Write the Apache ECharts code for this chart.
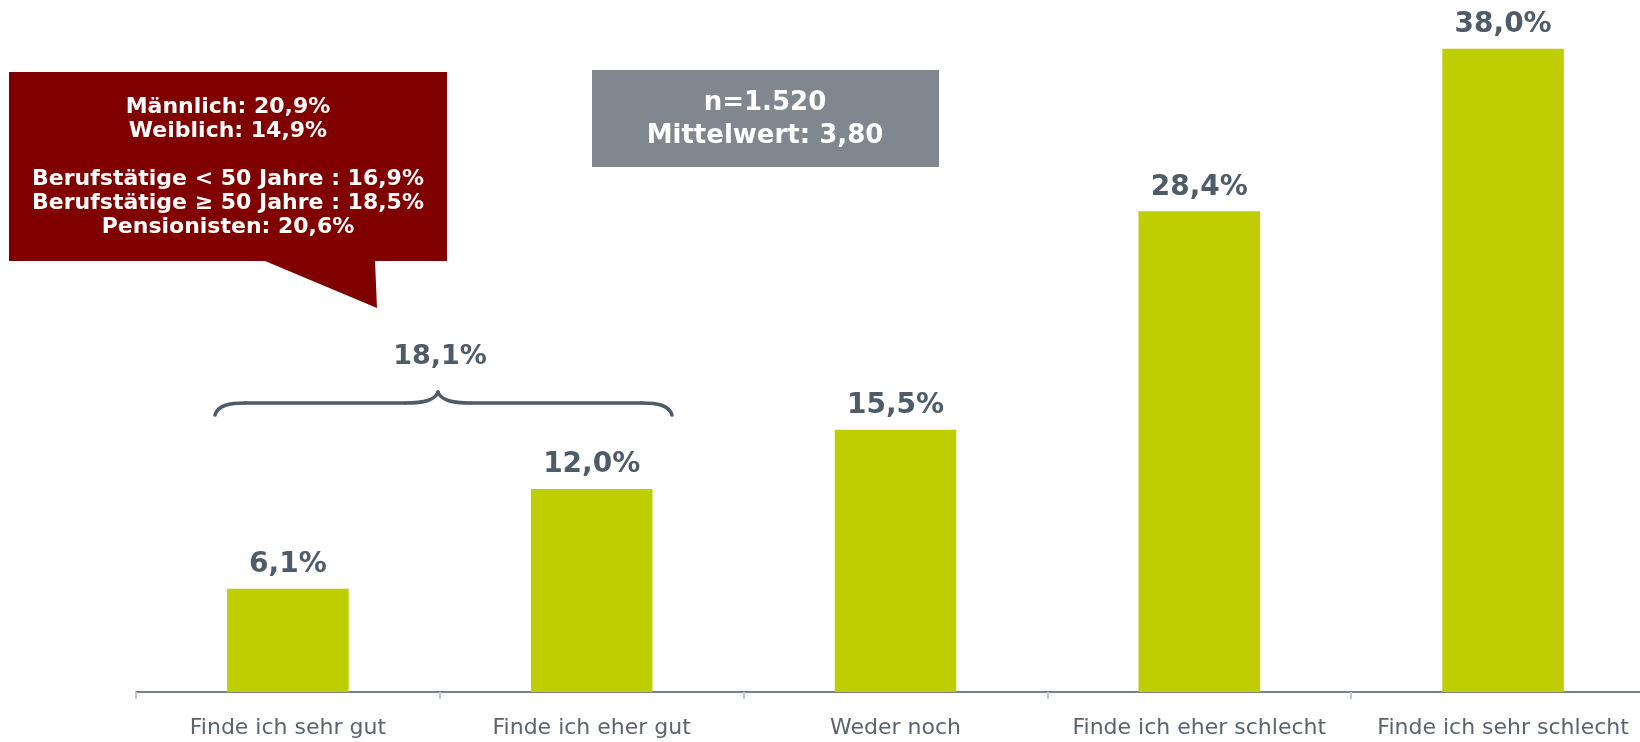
<!DOCTYPE html>
<html>
<head>
<meta charset="utf-8">
<script src="https://cdn.jsdelivr.net/npm/echarts@6/dist/echarts.min.js"></script>
<style>
  html, body { margin: 0; padding: 0; background: #fff; overflow: hidden; }
  /* Achse läuft rechts etwas über den sichtbaren Rand hinaus */
  #chart { width: 1655px; height: 742px; }
</style>
</head>
<body>
<div id="chart"></div>
<script>
// Werte aus der Grafik
const categories = ['Finde ich sehr gut', 'Finde ich eher gut', 'Weder noch', 'Finde ich eher schlecht', 'Finde ich sehr schlecht'];
const shares = [6.1, 12.0, 15.5, 28.4, 38.0];
const topTwoShare = 18.1;
const sampleLines = ['n=1.520', 'Mittelwert: 3,80'];
const calloutLines = [
  'Männlich: 20,9%',
  'Weiblich: 14,9%',
  '',
  'Berufstätige < 50 Jahre : 16,9%',
  'Berufstätige ≥ 50 Jahre : 18,5%',
  'Pensionisten: 20,6%'
];

const textColor = '#4e5b69';
const fmt = v => v.toFixed(1).replace('.', ',') + '%';

// geschweifte Klammer aus Kurven und Linien
const braceStyle = { fill: 'none', stroke: textColor, lineWidth: 3.5, lineCap: 'round' };
const curve = (x1, y1, cpx1, cpy1, cpx2, cpy2, x2, y2) => ({
  type: 'bezierCurve',
  shape: { x1, y1, cpx1, cpy1, cpx2, cpy2, x2, y2 },
  style: braceStyle
});
const straight = (x1, y1, x2, y2) => ({
  type: 'line',
  shape: { x1, y1, x2, y2 },
  style: braceStyle
});

let chart = echarts.init(document.getElementById('chart'));

chart.setOption({
  animation: false,
  textStyle: { fontFamily: 'DejaVu Sans' },
  grid: { left: 136, right: 0, top: 15, bottom: 50 },
  xAxis: {
    type: 'category',
    data: categories,
    axisLine: { lineStyle: { color: '#4e5b66', width: 1.5 } },
    axisTick: { show: true, length: 7, lineStyle: { color: '#c4c6c9', width: 2 } },
    axisLabel: { interval: 0, color: '#5a6470', fontSize: 22, margin: 25 }
  },
  yAxis: {
    type: 'value',
    min: 0,
    max: 40,
    show: false,
    splitLine: { show: false }
  },
  series: [{
    type: 'bar',
    data: shares,
    barWidth: '40%',
    itemStyle: { color: '#bece00' },
    label: {
      show: true,
      position: 'top',
      distance: 10,
      color: textColor,
      fontSize: 28,
      fontWeight: 'bold',
      formatter: p => fmt(p.value)
    }
  }],
  graphic: [
    // roter Sprechblasen-Kasten
    {
      type: 'polygon',
      shape: {
        points: [[9, 72], [447, 72], [447, 261], [375, 261], [377, 308], [265, 261], [9, 261]]
      },
      style: { fill: '#800000' }
    },
    {
      type: 'text',
      x: 228,
      y: 167,
      style: {
        text: calloutLines.join('\n'),
        fill: '#fff',
        font: 'bold 22px "DejaVu Sans"',
        lineHeight: 24,
        align: 'center',
        verticalAlign: 'middle'
      }
    },
    // grauer Kasten
    {
      type: 'rect',
      shape: { x: 592, y: 70, width: 347, height: 97 },
      style: { fill: '#80878f' }
    },
    {
      type: 'text',
      x: 765,
      y: 120,
      style: {
        text: sampleLines.join('\n'),
        fill: '#fff',
        font: 'bold 26px "DejaVu Sans"',
        lineHeight: 33,
        align: 'center',
        verticalAlign: 'middle'
      }
    },
    curve(215, 415, 218, 405, 230, 403, 245, 403),
    straight(245, 403, 405, 403),
    curve(405, 403, 425, 403, 435, 400, 438, 392),
    curve(438, 392, 441, 400, 451, 403, 471, 403),
    straight(471, 403, 642, 403),
    curve(642, 403, 657, 403, 669, 405, 672, 415),
    {
      type: 'text',
      x: 440,
      y: 357,
      style: {
        text: fmt(topTwoShare),
        fill: textColor,
        font: 'bold 27px "DejaVu Sans"',
        align: 'center',
        verticalAlign: 'middle'
      }
    }
  ]
});
</script>
</body>
</html>
